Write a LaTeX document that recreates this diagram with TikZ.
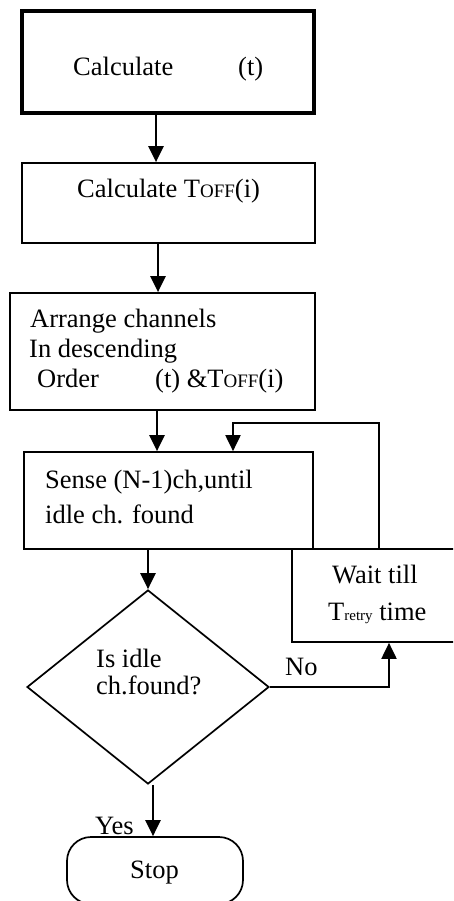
\documentclass[tikz,border=0pt]{standalone}
\usepackage{fontspec}
\setmainfont{Liberation Serif}
\usetikzlibrary{arrows.meta,shapes.geometric}
\newcommand{\Toff}{T{\fontsize{19}{19}\selectfont OFF}}
\newcommand{\Tretry}{T{\fontsize{15}{15}\selectfont retry}}
\begin{document}
\begin{tikzpicture}[x=1pt,y=-1pt,
  box/.style={draw, line width=1.7pt, inner sep=0pt},
  txt/.style={inner sep=0pt, anchor=base west, font=\fontsize{26.5}{30}\selectfont},
  arr/.style={line width=2.6pt, -{Triangle[length=16pt,width=15pt]}},
  link/.style={line width=2pt}]
\path[use as bounding box, clip] (0,0) rectangle (453,901);

% process boxes
\node[box, line width=3.3pt, minimum width=292pt, minimum height=102pt] (b1) at (168,62) {};
\node[box, minimum width=293pt, minimum height=80pt] (b2) at (168.5,203) {};
\node[box, minimum width=305pt, minimum height=117pt] (b3) at (162.5,351.5) {};
\node[box, minimum width=289pt, minimum height=97pt] (b4) at (168.5,500.5) {};
\node[box, minimum width=178pt, minimum height=93pt] (w) at (381,595.5) {};
\node[box, diamond, minimum width=242pt, minimum height=194pt] (d) at (148,687) {};
\node[box, rounded corners=24pt, minimum width=176pt, minimum height=67pt] (stop) at (155,870.5) {};

% texts
\node[txt] (t1a) at (73,76) {Calculate};
\node[txt] (t1b) at (238,76) {(t)};
\node[txt] (t2) at (77,198) {Calculate \Toff(i)};
\node[txt] (t3a) at (30,327) {Arrange channels};
\node[txt] (t3b) at (29,357) {In descending};
\node[txt] (t3c) at (37,387) {Order};
\node[txt] (t3d) at (155,387) {(t) \&\Toff(i)};
\node[txt] (t4a) at (45,488) {Sense (N-1)ch,until};
\node[txt] (t4b) at (45,523) {idle ch. found};
\node[txt] (tw1) at (332,583) {Wait till};
\node[txt] (tw2) at (328,620) {\Tretry{} time};
\node[txt] (td1) at (96,667) {Is idle};
\node[txt] (td2) at (96,694) {ch.found?};
\node[txt] (tno) at (285,675) {No};
\node[txt] (tyes) at (95,834) {Yes};
\node[txt] (tstop) at (130,878) {Stop};

% connector columns
\coordinate (c1) at (156,0);
\coordinate (c2) at (158,0);
\coordinate (c3) at (157,0);
\coordinate (c5) at (153,0);
\coordinate (c6) at (389,0);
\coordinate (c7) at (379,0);
\coordinate (c8) at (233,423);

% connectors
\draw[arr] (b1.south -| c1) -- (b2.north -| c1);
\draw[arr] (b2.south -| c2) -- (b3.north -| c2);
\draw[arr] (b3.south -| c3) -- (b4.north -| c3);
\draw[arr] (b4.south -| d.north) -- (d.north);
\draw[arr] (d.south -| c5) -- (stop.north -| c5);
\draw[arr, line width=2pt] (d.east) -| (c6 |- w.south);
\draw[arr, line width=2pt] (w.north -| c7) |- (c8) -- (b4.north -| c8);
\end{tikzpicture}
\end{document}
